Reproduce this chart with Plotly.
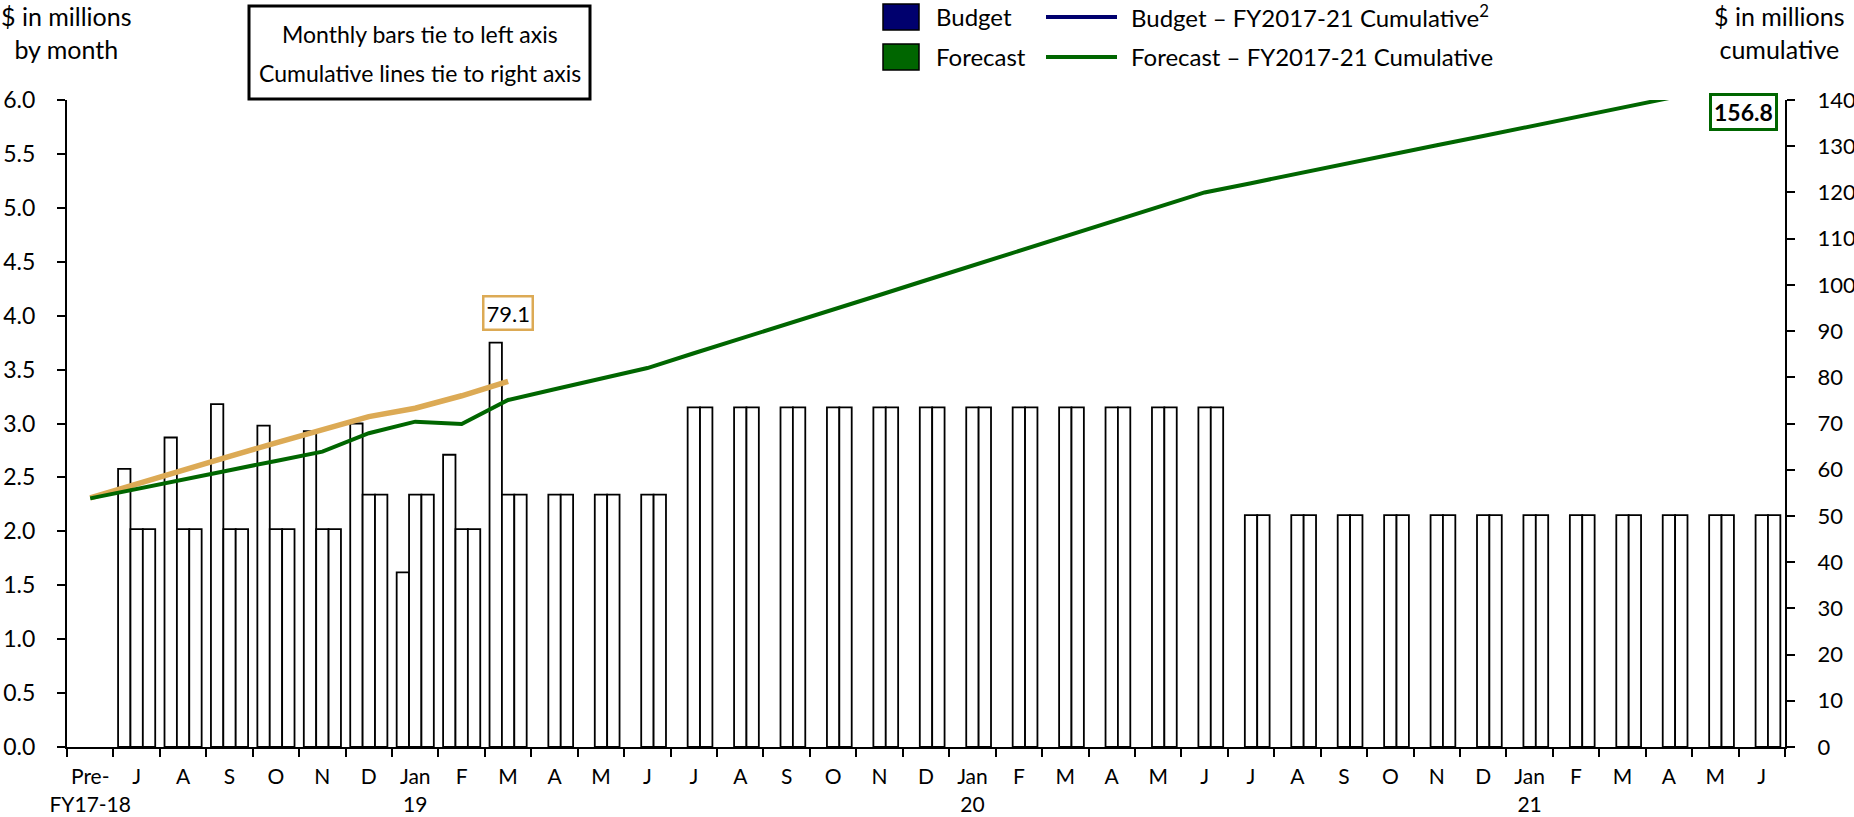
import plotly.graph_objects as go

# category ids (unique) and the labels shown under them
periods = ["Pre",
           "2018-07", "2018-08", "2018-09", "2018-10", "2018-11", "2018-12",
           "2019-01", "2019-02", "2019-03", "2019-04", "2019-05", "2019-06",
           "2019-07", "2019-08", "2019-09", "2019-10", "2019-11", "2019-12",
           "2020-01", "2020-02", "2020-03", "2020-04", "2020-05", "2020-06",
           "2020-07", "2020-08", "2020-09", "2020-10", "2020-11", "2020-12",
           "2021-01", "2021-02", "2021-03", "2021-04", "2021-05", "2021-06"]
tick_labels = ["Pre-<br>FY17-18",
               "J", "A", "S", "O", "N", "D", "Jan<br>19", "F", "M", "A", "M", "J",
               "J", "A", "S", "O", "N", "D", "Jan<br>20", "F", "M", "A", "M", "J",
               "J", "A", "S", "O", "N", "D", "Jan<br>21", "F", "M", "A", "M", "J"]

# monthly bars, $M (left axis)
actual_months = periods[1:10]
actual_monthly = [2.58, 2.87, 3.18, 2.98, 2.93, 3.00, 1.62, 2.71, 3.75]
budget_monthly = [2.02, 2.02, 2.02, 2.02, 2.02, 2.34, 2.34, 2.02, 2.34, 2.34, 2.34, 2.34,
                  3.15, 3.15, 3.15, 3.15, 3.15, 3.15, 3.15, 3.15, 3.15, 3.15, 3.15, 3.15,
                  2.15, 2.15, 2.15, 2.15, 2.15, 2.15, 2.15, 2.15, 2.15, 2.15, 2.15, 2.15]
forecast_monthly = [2.02, 2.02, 2.02, 2.02, 2.02, 2.34, 2.34, 2.02, 2.34, 2.34, 2.34, 2.34,
                    3.15, 3.15, 3.15, 3.15, 3.15, 3.15, 3.15, 3.15, 3.15, 3.15, 3.15, 3.15,
                    2.15, 2.15, 2.15, 2.15, 2.15, 2.15, 2.15, 2.15, 2.15, 2.15, 2.15, 2.15]

# cumulative lines, $M (right axis)
actual_cum_months = periods[0:10]
actual_cumulative = [53.9, 57.0, 60.0, 62.9, 65.8, 68.6, 71.5, 73.3, 76.0, 79.1]
forecast_cumulative = [53.8, 55.9, 57.9, 59.9, 61.9, 63.9, 67.9, 70.4, 69.9, 75.1, 77.4, 79.7, 82.0,
                       85.2, 88.3, 91.5, 94.7, 97.8, 101.0, 104.2, 107.3, 110.5, 113.7, 116.8, 120.0,
                       122.0, 124.1, 126.1, 128.2, 130.2, 132.2, 134.3, 136.3, 138.4, 140.4, 142.4, 144.5]
actual_label = "79.1"
forecast_label = "156.8"

GOLD = "#DCAA55"
GREEN = "#006600"
NAVY = "#00006E"
FONT = "Lato"

W, H = 1854, 817
ML, MR, MT, MB = 67, 69, 100, 70


def px(x):
    # page pixel -> paper fraction
    return (x - ML) / (W - ML - MR)


def py(y):
    return (H - MB - y) / (H - MT - MB)


fig = go.Figure()

bar_style = dict(marker=dict(color="white", line=dict(color="black", width=1.8)), showlegend=False)
fig.add_trace(go.Bar(x=actual_months, y=actual_monthly, name="Actual", **bar_style))
fig.add_trace(go.Bar(x=periods[1:], y=budget_monthly, name="Budget", **bar_style))
fig.add_trace(go.Bar(x=periods[1:], y=forecast_monthly, name="Forecast", **bar_style))

fig.add_trace(go.Scatter(x=actual_cum_months, y=actual_cumulative, yaxis="y2", mode="lines",
                         line=dict(color=GOLD, width=5.5), showlegend=False))
fig.add_trace(go.Scatter(x=periods, y=forecast_cumulative, yaxis="y2", mode="lines",
                         line=dict(color=GREEN, width=4), showlegend=False))

shapes = []
annotations = []

# note box top left
shapes.append(dict(type="rect", xref="paper", yref="paper",
                   x0=px(249), x1=px(590), y0=py(6), y1=py(99),
                   line=dict(color="black", width=3), fillcolor="white"))
for txt, yc in [("Monthly bars tie to left axis", 34), ("Cumulative lines tie to right axis", 73)]:
    annotations.append(dict(text=txt, xref="paper", yref="paper", x=px(420), y=py(yc),
                            xanchor="center", yanchor="middle", showarrow=False,
                            font=dict(size=23, color="black", family=FONT)))

# hand-made legend
for col, yc in [(NAVY, 17), (GREEN, 57)]:
    shapes.append(dict(type="rect", xref="paper", yref="paper",
                       x0=px(883), x1=px(919), y0=py(yc - 13), y1=py(yc + 13),
                       line=dict(color="black", width=1.5), fillcolor=col))
    shapes.append(dict(type="line", xref="paper", yref="paper",
                       x0=px(1046), x1=px(1117), y0=py(yc), y1=py(yc),
                       line=dict(color=col, width=4)))
for txt, x, yc in [("Budget", 934, 16), ("Forecast", 934, 57),
                   ("Budget – FY2017-21 Cumulative<sup>2</sup>", 1129, 16),
                   ("Forecast – FY2017-21 Cumulative", 1129, 57)]:
    annotations.append(dict(text=txt, xref="paper", yref="paper", x=px(x), y=py(yc),
                            xanchor="left", yanchor="middle", showarrow=False,
                            font=dict(size=24, color="black", family=FONT)))

# axis titles
annotations.append(dict(text="$ in millions<br>by month", xref="paper", yref="paper",
                        x=px(66), y=py(32), xanchor="center", yanchor="middle",
                        showarrow=False, font=dict(size=25, color="black", family=FONT)))
annotations.append(dict(text="$ in millions<br>cumulative", xref="paper", yref="paper",
                        x=px(1779), y=py(32), xanchor="center", yanchor="middle",
                        showarrow=False, font=dict(size=25, color="black", family=FONT)))

# value call-outs
annotations.append(dict(text=actual_label, x=actual_cum_months[-1], y=actual_cumulative[-1],
                        xref="x", yref="y2", yshift=68, showarrow=False,
                        bordercolor=GOLD, borderwidth=2.5, borderpad=2, bgcolor="white",
                        font=dict(size=22, color="black", family=FONT)))
annotations.append(dict(text="<b>" + forecast_label + "</b>", xref="paper", yref="paper",
                        x=px(1743), y=py(112), xanchor="center", yanchor="middle",
                        showarrow=False, bordercolor=GREEN, borderwidth=3, borderpad=2,
                        bgcolor="white", font=dict(size=23, color="black", family=FONT)))

fig.update_layout(
    width=W, height=H,
    margin=dict(l=ML, r=MR, t=MT, b=MB, pad=0, autoexpand=False),
    paper_bgcolor="white", plot_bgcolor="white",
    barmode="group", bargap=0.2, bargroupgap=0,
    showlegend=False,
    font=dict(family=FONT, size=23, color="black"),
    shapes=shapes, annotations=annotations,
    xaxis=dict(type="category", categoryorder="array", categoryarray=periods,
               range=[-0.5, len(periods) - 0.5],
               tickmode="array", tickvals=periods, ticktext=tick_labels,
               tickson="boundaries", ticks="outside", ticklen=8, tickwidth=1.5,
               tickcolor="black", showline=True, linecolor="black", linewidth=2,
               showgrid=False, zeroline=False, tickangle=0, automargin=False,
               ticklabelstandoff=10, tickfont=dict(size=21, family=FONT)),
    yaxis=dict(range=[0, 6], dtick=0.5, tickformat=".1f", ticks="outside", ticklen=8,
               tickwidth=1.5, tickcolor="black", showline=True, linecolor="black",
               linewidth=2, showgrid=False, zeroline=False, ticklabelstandoff=17,
               automargin=False, tickfont=dict(size=23, family=FONT)),
    yaxis2=dict(range=[0, 140], dtick=10, overlaying="y", side="right", ticks="outside",
                ticklen=8, tickwidth=1.5, tickcolor="black", showline=True,
                linecolor="black", linewidth=2, showgrid=False, zeroline=False,
                ticklabelstandoff=18, automargin=False, tickfont=dict(size=22, family=FONT)),
)

# drop the browser's default 8px body margin so the figure fills the window exactly
fig.write_html("out.html", config={"displayModeBar": False},
               post_script="document.body.style.margin='0';document.body.style.overflow='hidden';")
